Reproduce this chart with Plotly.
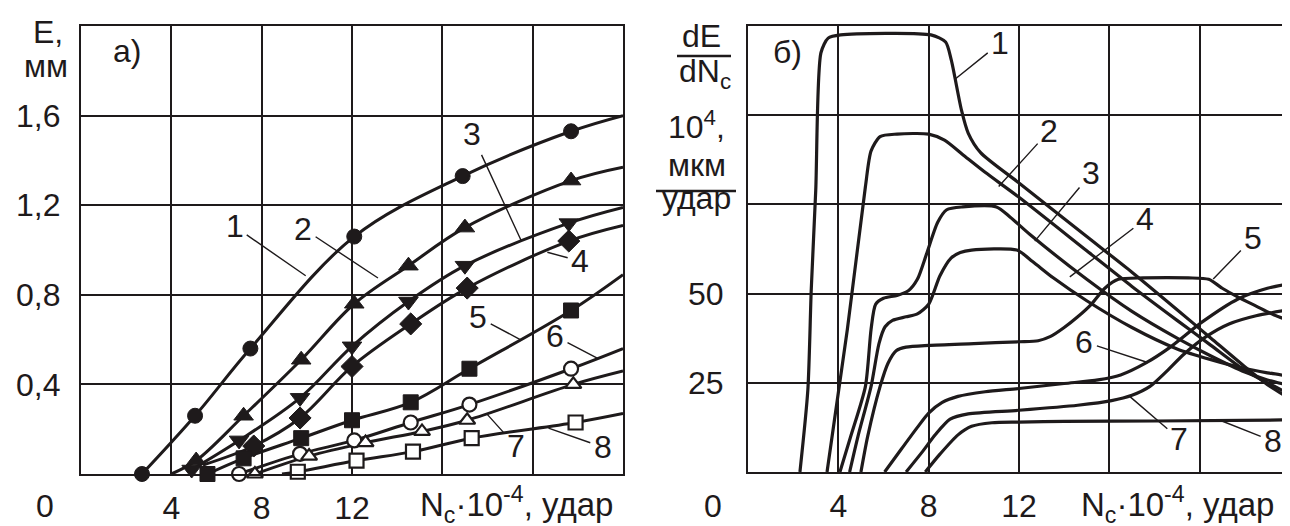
import plotly.graph_objects as go

# ---------------- data: panel a) E (mm) vs Nc*1e-4 ----------------
e1_x = [2.7, 5.05, 7.5, 12.1, 16.9, 21.7, 24.0]
e1_y = [0.0, 0.26, 0.56, 1.06, 1.33, 1.53, 1.60]
e1_m = [1, 1, 1, 1, 1, 1, 0]

e2_x = [4.0, 5.1, 7.2, 9.75, 12.1, 14.5, 17.0, 21.7, 24.0]
e2_y = [0.0, 0.06, 0.26, 0.51, 0.76, 0.93, 1.10, 1.31, 1.37]
e2_m = [0, 1, 1, 1, 1, 1, 1, 1, 0]

e3_x = [4.9, 7.0, 9.7, 12.0, 14.5, 17.0, 21.6, 24.0]
e3_y = [0.02, 0.15, 0.34, 0.57, 0.77, 0.93, 1.12, 1.19]
e3_m = [1, 1, 1, 1, 1, 1, 1, 0]

e4_x = [5.4, 7.65, 9.7, 12.0, 14.6, 17.1, 21.6, 24.0]
e4_y = [0.04, 0.125, 0.25, 0.48, 0.67, 0.83, 1.04, 1.11]
e4_m = [0, 1, 1, 1, 1, 1, 1, 0]

e5_x = [5.6, 7.2, 9.75, 12.0, 14.6, 17.2, 21.7, 24.0]
e5_y = [0.0, 0.07, 0.16, 0.24, 0.32, 0.47, 0.73, 0.89]
e5_m = [1, 1, 1, 1, 1, 1, 1, 0]

e6_x = [7.0, 9.7, 12.1, 14.6, 17.2, 21.7, 24.0]
e6_y = [0.0, 0.09, 0.15, 0.23, 0.31, 0.47, 0.56]
e6_m = [1, 1, 1, 1, 1, 1, 0]

e7_x = [7.7, 10.1, 12.6, 15.1, 17.1, 21.8, 24.0]
e7_y = [0.0, 0.08, 0.14, 0.19, 0.24, 0.40, 0.46]
e7_m = [1, 1, 1, 1, 1, 1, 0]

e8_x = [8.9, 9.6, 12.2, 14.7, 17.3, 21.9, 24.0]
e8_y = [0.0, 0.01, 0.06, 0.10, 0.16, 0.23, 0.27]
e8_m = [0, 1, 1, 1, 1, 1, 0]

# ---------------- data: panel б) dE/dNc vs Nc*1e-4 ----------------
r1_x = [2.3, 2.65, 2.8, 3.0, 3.23, 3.55, 4.1, 8.1, 8.75, 9.0, 9.45, 9.75, 10.3, 12.0, 15.0, 17.0, 19.0, 20.5, 22.0, 23.0, 24.0]
r1_y = [0, 23, 51, 79, 117.5, 121.6, 122.5, 122.5, 120.5, 115.5, 101.5, 95, 89.5, 81, 66, 56, 45.5, 37.5, 29.5, 24.5, 20.5]

r2_x = [3.5, 4.4, 5.2, 5.45, 5.85, 6.6, 8.0, 8.7, 9.5, 10.5, 12.0, 15.0, 17.0, 19.0, 20.5, 22.0, 23.0, 24.0]
r2_y = [0, 40, 80, 90, 94, 94.7, 94.7, 93, 89, 84, 77, 62, 52, 42.5, 35.5, 28.5, 25, 21.8]

r3_x = [4.07, 4.55, 5.2, 5.45, 5.65, 6.0, 6.6, 7.1, 7.5, 7.9, 8.4, 8.8, 9.5, 11.0, 11.6, 12.5, 15.0, 17.0, 19.0, 20.5, 22.0, 23.0, 24.0]
r3_y = [0, 10, 24, 40, 47, 48.7, 49.5, 50.8, 54, 61, 70, 73.5, 74.3, 74.3, 71.5, 66.5, 54, 45, 37.5, 32.5, 28, 25.8, 24.2]

r4_x = [4.5, 4.87, 5.45, 5.8, 6.07, 6.4, 7.0, 7.5, 8.0, 8.5, 9.0, 9.4, 9.9, 11.9, 12.6, 13.5, 15.0, 17.0, 19.0, 20.5, 22.0, 23.0, 24.0]
r4_y = [0, 10, 24, 36, 40.7, 42.5, 43.5, 44.3, 47, 55, 60, 61.5, 62.2, 62.2, 59, 54.5, 48, 40.5, 34.5, 31.5, 29, 27.8, 26.8]

r5_x = [5.0, 5.3, 5.85, 6.2, 6.56, 7.0, 8.0, 10.0, 12.0, 12.85, 13.4, 14.0, 14.6, 15.2, 15.8, 16.4, 17.5, 19.5, 20.4, 21.0, 21.7, 22.5, 23.3, 24.0]
r5_y = [0, 10, 24, 30.5, 34, 35, 35.5, 36, 36.5, 36.8, 38, 40.5, 43.5, 47, 51.5, 54, 54.4, 54.4, 54, 51.5, 49, 46.5, 44, 42.4]

r6_x = [6.05, 6.8, 7.5, 8.0, 8.6, 9.3, 10.5, 12.0, 14.0, 15.5, 16.5, 17.6, 18.7, 20.1, 21.7, 23.0, 24.0]
r6_y = [0, 6.5, 12.5, 16.5, 19.5, 21.2, 22.5, 23.4, 24.8, 25.8, 27.2, 30.5, 35, 42, 48.5, 51.5, 52.8]

r7_x = [7.0, 7.7, 8.3, 8.95, 9.75, 12.0, 14.6, 16.1, 17.0, 17.8, 18.5, 19.3, 20.3, 21.3, 22.5, 24.0]
r7_y = [0, 5.5, 10.5, 14.8, 16.3, 17.3, 18.7, 20.0, 21.5, 24, 28, 33, 38, 41.5, 43.8, 45.5]

r8_x = [7.85, 8.5, 9.3, 9.9, 10.8, 12.0, 14.0, 18.0, 24.0]
r8_y = [0, 5, 10.4, 12.8, 13.8, 14.0, 14.2, 14.3, 14.6]

# tick labels / grid
x_ticks = [4, 8, 12]
x_ticktext = ["4", "8", "12"]
x_grid_extra = [16, 20]
ya_ticks = [0.4, 0.8, 1.2, 1.6]
ya_ticktext = ["0,4", "0,8", "1,2", "1,6"]
yb_ticks = [25, 50]
yb_ticktext = ["25", "50"]
yb_grid_extra = [75, 100]

# curve labels: (text, text_x, text_y, tip_x, tip_y)
labels_a = [
    ("1", 6.8, 1.105, 9.95, 0.885),
    ("2", 9.85, 1.095, 13.15, 0.875),
    ("3", 17.3, 1.52, 19.5, 1.04),
    ("4", 22.1, 0.95, 20.65, 0.99),
    ("5", 17.6, 0.70, 19.45, 0.60),
    ("6", 21.0, 0.615, 22.9, 0.515),
    ("7", 19.25, 0.125, 18.0, 0.265),
    ("8", 23.1, 0.12, 20.7, 0.205),
]
labels_b = [
    ("1", 11.15, 120.2, 9.15, 110),
    ("2", 13.35, 95.7, 11.1, 80),
    ("3", 15.2, 83.7, 12.7, 64.7),
    ("4", 17.6, 70.9, 14.25, 54.7),
    ("5", 22.35, 65.5, 20.6, 54.1),
    ("6", 14.9, 36.5, 17.7, 30.7),
    ("7", 19.1, 9.2, 16.9, 21.2),
    ("8", 23.25, 8.6, 20.9, 14.5),
]

INK = "#1e1a1b"
FONT = "Arial, 'Liberation Sans', sans-serif"
FS = 32

fig = go.Figure()

markers_a = [
    ("circle", INK, e1_x, e1_y, e1_m),
    ("triangle-up", INK, e2_x, e2_y, e2_m),
    ("triangle-down", INK, e3_x, e3_y, e3_m),
    ("diamond", INK, e4_x, e4_y, e4_m),
    ("square", INK, e5_x, e5_y, e5_m),
    ("circle", "white", e6_x, e6_y, e6_m),
    ("triangle-up", "white", e7_x, e7_y, e7_m),
    ("square", "white", e8_x, e8_y, e8_m),
]
# lines first
for sym, fill, xs, ys, ms in markers_a:
    fig.add_trace(go.Scatter(
        x=xs, y=ys, mode="lines", xaxis="x", yaxis="y",
        line=dict(color=INK, width=3, shape="spline", smoothing=1.0),
        cliponaxis=False, showlegend=False, hoverinfo="skip"))
# markers on top
for sym, fill, xs, ys, ms in markers_a:
    big = sym in ("triangle-up", "triangle-down", "diamond")
    sz = 17 if big else 15
    if fill == "white":
        sz = 14
    mx = [x for x, m in zip(xs, ms) if m]
    my = [y for y, m in zip(ys, ms) if m]
    fig.add_trace(go.Scatter(
        x=mx, y=my, mode="markers", xaxis="x", yaxis="y",
        marker=dict(symbol=sym, size=sz, color=fill, opacity=1,
                    line=dict(color=INK, width=2.2 if fill == "white" else 1)),
        cliponaxis=False, showlegend=False, hoverinfo="skip"))

for xs, ys in [(r1_x, r1_y), (r2_x, r2_y), (r3_x, r3_y), (r4_x, r4_y),
               (r5_x, r5_y), (r6_x, r6_y), (r7_x, r7_y), (r8_x, r8_y)]:
    fig.add_trace(go.Scatter(
        x=xs, y=ys, mode="lines", xaxis="x2", yaxis="y2",
        line=dict(color=INK, width=3.2, shape="spline", smoothing=0.7),
        cliponaxis=True, showlegend=False, hoverinfo="skip"))

W, H = 1290, 526
def px(x): return x / W
def py(y): return 1 - y / H

axis_common = dict(showgrid=True, gridcolor=INK, gridwidth=2, showline=True,
                   linecolor=INK, linewidth=2.2, mirror=True, zeroline=False,
                   ticks="", tickfont=dict(family=FONT, size=FS, color=INK),
                   fixedrange=True)
minor_x = dict(tickvals=x_grid_extra, showgrid=True, gridcolor=INK, gridwidth=2, ticks="")

fig.update_layout(
    width=W, height=H, margin=dict(l=0, r=0, t=0, b=0),
    paper_bgcolor="white", plot_bgcolor="white",
    font=dict(family=FONT, size=FS, color=INK),
    xaxis=dict(domain=[px(73), px(615)], range=[0, 24], tickvals=x_ticks,
               ticktext=x_ticktext, anchor="y", ticklabelstandoff=4,
               minor=minor_x, **axis_common),
    yaxis=dict(domain=[py(466), py(18)], range=[0, 2.0], tickvals=ya_ticks,
               ticktext=ya_ticktext, anchor="x", ticklabelstandoff=12, **axis_common),
    xaxis2=dict(domain=[px(740), px(1282)], range=[0, 24], tickvals=x_ticks,
                ticktext=x_ticktext, anchor="y2", ticklabelstandoff=4,
                minor=minor_x, **axis_common),
    yaxis2=dict(domain=[py(464), py(18)], range=[0, 125], tickvals=yb_ticks,
                ticktext=yb_ticktext, anchor="x2", ticklabelstandoff=16,
                minor=dict(tickvals=yb_grid_extra, showgrid=True, gridcolor=INK,
                           gridwidth=2, ticks=""),
                **axis_common),
)

ann = []
DY = 9  # text box centre sits lower than glyph centre
def txt(t, x, y, xanchor="center", yanchor="middle", size=FS):
    ann.append(dict(text=t, x=px(x), y=py(y - DY), xref="paper", yref="paper",
                    showarrow=False, xanchor=xanchor, yanchor=yanchor,
                    font=dict(family=FONT, size=size, color=INK)))

# panel a) texts
txt("E,", 40, 33)
txt("мм", 38, 67)
txt("а)", 119, 52)
txt("0", 37, 507)
txt("N<sub>c</sub>·10<sup>-4</sup>, удар", 410, 505, xanchor="left", size=33)
# panel б) texts
txt("б)", 779, 53)
txt("dE", 693, 37)
txt("dN<sub>c</sub>", 697, 74)
txt("10<sup>4</sup>,", 688, 126)
txt("мкм", 689, 166)
txt("удар", 688, 199)
txt("0", 705, 507)
txt("N<sub>c</sub>·10<sup>-4</sup>, удар", 1071, 505, xanchor="left", size=33)

for lbls, xr, yr in [(labels_a, "x", "y"), (labels_b, "x2", "y2")]:
    for t, tx, ty, ax_, ay_ in lbls:
        ann.append(dict(text=t, x=ax_, y=ay_, xref=xr, yref=yr,
                        ax=tx, ay=ty, axref=xr, ayref=yr,
                        showarrow=True, arrowhead=0, arrowwidth=1.4,
                        arrowcolor=INK, standoff=0, startstandoff=2,
                        font=dict(family=FONT, size=FS, color=INK)))

fig.update_layout(annotations=ann)

fig.update_layout(shapes=[
    dict(type="line", xref="paper", yref="paper", x0=px(669), x1=px(723),
         y0=py(48), y1=py(48), line=dict(color=INK, width=2.5)),
    dict(type="line", xref="paper", yref="paper", x0=px(648), x1=px(728),
         y0=py(183), y1=py(183), line=dict(color=INK, width=2.5)),
])

fig.write_html("out.html")
